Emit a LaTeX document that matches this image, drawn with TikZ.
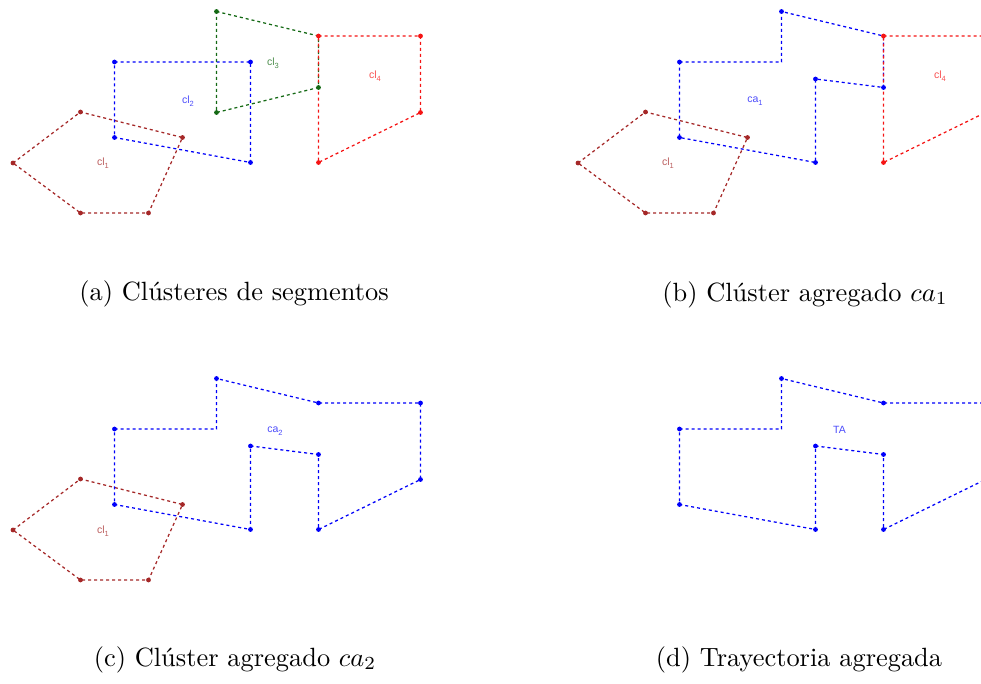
\documentclass[tikz,border=0pt]{standalone}
\usepackage{fontspec}
\newfontfamily\lblfont{Liberation Sans}
\definecolor{cbrown}{RGB}{165,40,40}
\definecolor{cblue}{RGB}{0,0,250}
\definecolor{cgreen}{RGB}{20,105,20}
\definecolor{cred}{RGB}{245,20,20}
\newcommand\lbltext[2]{#1\raisebox{-2.8pt}{\fontsize{7.5}{8}\selectfont #2}}
\newcommand\defverts{%
  \coordinate (P1) at (13,163);  \coordinate (P2) at (80.5,112);
  \coordinate (P3) at (182.5,137.5); \coordinate (P4) at (148.5,213);
  \coordinate (P5) at (80.5,213);
  \coordinate (Q1) at (114.5,62); \coordinate (Q2) at (250.5,62);
  \coordinate (Q3) at (250.5,162.5); \coordinate (Q4) at (114.5,137.5);
  \coordinate (R1) at (216.5,11.5); \coordinate (R2) at (318.5,36);
  \coordinate (R3) at (318.5,87.5); \coordinate (R4) at (216.5,112.5);
  \coordinate (S1) at (318.5,36); \coordinate (S2) at (420.5,36);
  \coordinate (S3) at (420.5,112.5); \coordinate (S4) at (318.5,162.5);
  \coordinate (T1) at (216.5,62); \coordinate (T2) at (250.5,79);
}
\tikzset{
  seg/.style={line width=1.25pt, dash pattern=on 3pt off 3pt},
  vdot/.style={radius=2.4pt},
  lbl/.style={font=\lblfont\fontsize{10.5}{12}\selectfont, inner sep=0pt},
  captxt/.style={font=\fontsize{10}{12}\selectfont, scale=2.64, anchor=base, inner sep=0pt},
}
\begin{document}
\begin{tikzpicture}[x=1pt,y=-1pt]
\useasboundingbox (0,0) rectangle (981,684);
\clip (0,0) rectangle (981,684);

% ---------- (a) ----------
\begin{scope}
\defverts
\draw[seg,cbrown] (P1)--(P2)--(P3)--(P4)--(P5)--cycle;
\draw[seg,cblue] (Q1)--(Q2)--(Q3)--(Q4)--cycle;
\draw[seg,cgreen] (R1)--(R2)--(R3)--(R4)--cycle;
\draw[seg,cred] (S1)--(S2)--(S3)--(S4)--cycle;
\foreach \p in {P1,P2,P3,P4,P5} \fill[cbrown,vdot] (\p) circle;
\foreach \p in {Q1,Q2,Q3,Q4} \fill[cblue,vdot] (\p) circle;
\foreach \p in {S1,S2,S3,S4} \fill[cred,vdot] (\p) circle;
\foreach \p in {R1,R3,R4} \fill[cgreen,vdot] (\p) circle;
\node[lbl,text=cbrown!75!white] (la1) at (103,163.5) {\lbltext{cl}{1}};
\node[lbl,text=cblue!70!white] (la2) at (188,101) {\lbltext{cl}{2}};
\node[lbl,text=cgreen!75!white] (la3) at (273,63) {\lbltext{cl}{3}};
\node[lbl,text=cred!75!white] (la4) at (375,76) {\lbltext{cl}{4}};
\end{scope}

% ---------- (b) ----------
\begin{scope}[shift={(565,0)}]
\defverts
\draw[seg,cbrown] (P1)--(P2)--(P3)--(P4)--(P5)--cycle;
\draw[seg,cblue] (Q1)--(T1)--(R1)--(S1)--(R3)--(T2)--(Q3)--(Q4)--cycle;
\draw[seg,cred] (S1)--(S2)--(S3)--(S4)--cycle;
\foreach \p in {P1,P2,P3,P4,P5} \fill[cbrown,vdot] (\p) circle;
\foreach \p in {Q1,R1,R3,T2,Q3,Q4} \fill[cblue,vdot] (\p) circle;
\foreach \p in {S1,S2,S3,S4} \fill[cred,vdot] (\p) circle;
\node[lbl,text=cbrown!75!white] (lb1) at (103,163.5) {\lbltext{cl}{1}};
\node[lbl,text=cblue!70!white] (lb2) at (190,101) {\lbltext{ca}{1}};
\node[lbl,text=cred!75!white] (lb4) at (375,76) {\lbltext{cl}{4}};
\end{scope}

% ---------- (c) ----------
\begin{scope}[shift={(0,367)}]
\defverts
\draw[seg,cbrown] (P1)--(P2)--(P3)--(P4)--(P5)--cycle;
\draw[seg,cblue] (Q1)--(T1)--(R1)--(S1)--(S2)--(S3)--(S4)--(R3)--(T2)--(Q3)--(Q4)--cycle;
\foreach \p in {P1,P2,P3,P4,P5} \fill[cbrown,vdot] (\p) circle;
\foreach \p in {Q1,R1,S1,S2,S3,S4,R3,T2,Q3,Q4} \fill[cblue,vdot] (\p) circle;
\node[lbl,text=cbrown!75!white] (lc1) at (103,164.5) {\lbltext{cl}{1}};
\node[lbl,text=cblue!70!white] (lc2) at (275,64) {\lbltext{ca}{2}};
\end{scope}

% ---------- (d) ----------
\begin{scope}[shift={(565,367)}]
\defverts
\draw[seg,cblue] (Q1)--(T1)--(R1)--(S1)--(S2)--(S3)--(S4)--(R3)--(T2)--(Q3)--(Q4)--cycle;
\foreach \p in {Q1,R1,S1,S2,S3,S4,R3,T2,Q3,Q4} \fill[cblue,vdot] (\p) circle;
\node[lbl,text=cblue!70!white] (ld1) at (274.5,63) {TA};
\end{scope}

% ---------- captions ----------
\node[captxt] (capa) at (234,300) {(a) Clústeres de segmentos};
\node[captxt] (capb) at (805,301) {(b) Clúster agregado $ca_1$};
\node[captxt] (capc) at (235,666) {(c) Clúster agregado $ca_2$};
\node[captxt] (capd) at (799,666) {(d) Trayectoria agregada};
\end{tikzpicture}
\end{document}
